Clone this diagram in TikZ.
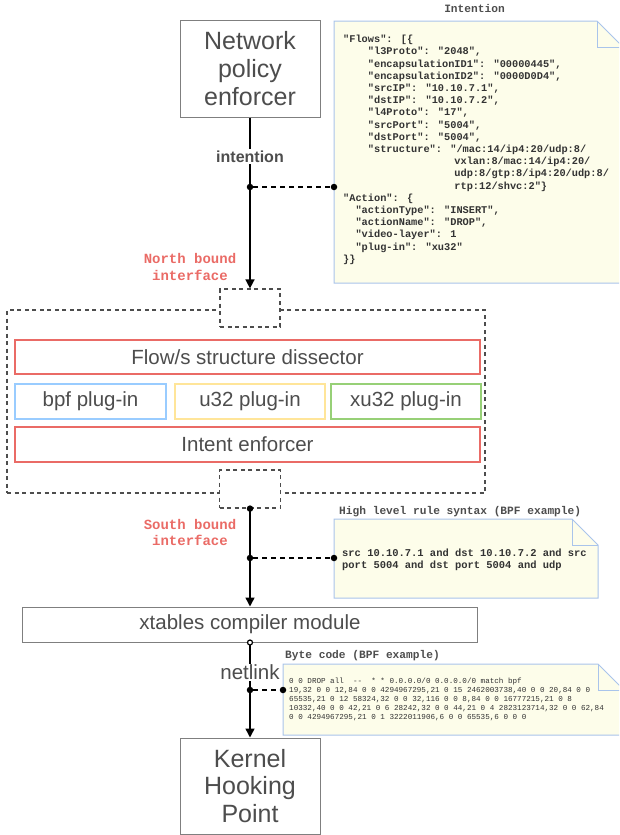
\documentclass[tikz,border=0pt]{standalone}
\usepackage{fontspec}
\setmainfont{Liberation Sans}
\newfontfamily\codefont{Liberation Mono}
\usetikzlibrary{arrows.meta}
\definecolor{boxgray}{HTML}{7F7F7F}
\definecolor{txtgray}{HTML}{4D4D4D}
\definecolor{redc}{HTML}{EA6B66}
\definecolor{bluec}{HTML}{99CCFF}
\definecolor{yellowc}{HTML}{FFE599}
\definecolor{greenc}{HTML}{97D077}
\definecolor{notefill}{HTML}{FDFDEA}
\definecolor{noteline}{HTML}{A9C4EB}
\definecolor{dashc}{HTML}{4D4D4D}
\definecolor{codec}{HTML}{333333}
\tikzset{
  graybox/.style={draw=boxgray, line width=1pt, fill=white, text=txtgray, inner sep=0pt, align=center},
  layerbox/.style={draw=#1, line width=1.6pt, fill=white, text=txtgray, inner sep=0pt, font=\fontsize{20.5}{23}\selectfont},
  plugbox/.style={draw=#1, line width=2.2pt, fill=white, text=txtgray, inner sep=0pt, font=\fontsize{20.5}{23}\selectfont},
  dashbox/.style={draw=dashc, line width=1.2pt, dash pattern=on 4pt off 3.5pt},
  flowline/.style={draw=black, line width=1.5pt, -{Triangle[length=9pt,width=9pt]}},
  dotnode/.style={circle, fill=black, inner sep=0pt, minimum size=6.5pt},
  opendot/.style={circle, draw=black, fill=white, line width=1.2pt, inner sep=0pt, minimum size=5pt},
  dlink/.style={draw=black, line width=1.5pt, dash pattern=on 5pt off 4pt},
  notebody/.style={draw=noteline, fill=notefill, line width=1pt},
  redlabel/.style={text=redc, font=\codefont\bfseries\fontsize{14}{16.5}\selectfont, align=center, inner sep=0pt},
  codetxt/.style={text=codec, anchor=north west, inner sep=0pt, align=left},
  titletxt/.style={text=txtgray, font=\codefont\bfseries\fontsize{11.2}{13}\selectfont, inner sep=0pt},
}
\begin{document}
\begin{tikzpicture}[x=1pt,y=-1pt]
\clip (0,0) rectangle (619,835);

% ---------- boxes ----------
\node[graybox, minimum width=140pt, minimum height=97pt, font=\fontsize{25}{28}\selectfont] (npe) at (250,68.5) {Network\\policy\\enforcer};

\node[dashbox, minimum width=478pt, minimum height=183pt] (core) at (246,401.5) {};
\node[dashbox, fill=white, minimum width=60pt, minimum height=38pt] (nb) at (250,308) {};
\node[dashbox, fill=white, minimum width=61pt, minimum height=38pt] (sb) at (250,489) {};

\node[layerbox=redc, minimum width=465pt, minimum height=34pt] (dis) at (247.5,357) {Flow/s structure dissector};
\node[plugbox=bluec, minimum width=151pt, minimum height=35pt] (bpf) at (90.5,401.5) {bpf plug-in};
\node[plugbox=yellowc, minimum width=150pt, minimum height=35pt] (u32) at (250,401.5) {u32 plug-in};
\node[plugbox=greenc, minimum width=150pt, minimum height=35pt] (xu32) at (406,401.5) {xu32 plug-in};
\node[layerbox=redc, minimum width=465pt, minimum height=35pt] (ie) at (247.5,444.5) {Intent enforcer};

\node[graybox, minimum width=455pt, minimum height=35pt, font=\fontsize{20.5}{23}\selectfont] (xt) at (250,624.5) {xtables compiler module};
\node[graybox, minimum width=140pt, minimum height=96pt, font=\fontsize{25}{27.5}\selectfont] (kh) at (250,786) {Kernel\\Hooking\\Point};

% ---------- notes ----------
\node[titletxt] (intitle) at (474.5,8) {Intention};
\draw[notebody] (334,21) -- (597,21) -- (623,47) -- (623,283) -- (334,283) -- cycle;
\draw[noteline, line width=1pt] (597,21) -- (597,47) -- (623,47);
\node[codetxt, font=\codefont\bfseries\fontsize{10.3}{12.2}\selectfont] (inttxt) at (343,33.4) {%
\rule{0pt}{9pt}"Flows": [\{\\
\hspace*{2.4em}"l3Proto": "2048",\\
\hspace*{2.4em}"encapsulationID1": "00000445",\\
\hspace*{2.4em}"encapsulationID2": "0000D0D4",\\
\hspace*{2.4em}"srcIP": "10.10.7.1",\\
\hspace*{2.4em}"dstIP": "10.10.7.2",\\
\hspace*{2.4em}"l4Proto": "17",\\
\hspace*{2.4em}"srcPort": "5004",\\
\hspace*{2.4em}"dstPort": "5004",\\
\hspace*{2.4em}"structure": "/mac:14/ip4:20/udp:8/\\
\hspace*{10.8em}vxlan:8/mac:14/ip4:20/\\
\hspace*{10.8em}udp:8/gtp:8/ip4:20/udp:8/\\
\hspace*{10.8em}rtp:12/shvc:2"\}\\
"Action": \{\\
\hspace*{1.2em}"actionType": "INSERT",\\
\hspace*{1.2em}"actionName": "DROP",\\
\hspace*{1.2em}"video-layer": 1\\
\hspace*{1.2em}"plug-in": "xu32"\\
\}\}};

\node[titletxt, anchor=west] (hltitle) at (339,512) {High level rule syntax (BPF example)};
\draw[notebody] (334,519) -- (572,519) -- (598,545) -- (598,598) -- (334,598) -- cycle;
\draw[noteline, line width=1pt] (572,519) -- (572,545) -- (598,545);
\node[codetxt, font=\codefont\bfseries\fontsize{10.45}{12}\selectfont] (hltxt) at (342,547.5) {%
\rule{0pt}{9pt}src 10.10.7.1 and dst 10.10.7.2 and src\\
port 5004 and dst port 5004 and udp};

\node[titletxt, anchor=west] (bctitle) at (285,656) {Byte code (BPF example)};
\draw[notebody] (283,664) -- (598,664) -- (624,690) -- (624,735) -- (283,735) -- cycle;
\draw[noteline, line width=1pt] (598,664) -- (598,690) -- (624,690);
\node[codetxt, font=\codefont\fontsize{7.6}{9}\selectfont] (bctxt) at (289,676.5) {%
\rule{0pt}{7pt}0 0 DROP all~~-{}-~~* * 0.0.0.0/0 0.0.0.0/0 match bpf\\
19,32 0 0 12,84 0 0 4294967295,21 0 15 2462003738,40 0 0 20,84 0 0\\
65535,21 0 12 58324,32 0 0 32,116 0 0 8,84 0 0 16777215,21 0 8\\
10332,40 0 0 42,21 0 6 28242,32 0 0 44,21 0 4 2823123714,32 0 0 62,84\\
0 0 4294967295,21 0 1 3222011906,6 0 0 65535,6 0 0 0};

% ---------- labels ----------
\node[redlabel] (nbl) at (190,267) {North bound\\interface};
\node[redlabel] (sbl) at (190,532.5) {South bound\\interface};

% ---------- connectors ----------
\draw[flowline] (npe.south) -- (nb.north)
  node[pos=0.227, fill=white, text=txtgray, inner sep=1.5pt, font=\bfseries\fontsize{16}{18}\selectfont] (intl) {intention};
\node[dotnode] (j1) at (250,187) {};
\node[dotnode] (e1) at (334,187) {};
\draw[dlink] (j1) -- (e1);

\draw[flowline] (sb.south) -- (xt.north);
\node[dotnode] (s0) at (sb.south) {};
\node[dotnode] (j2) at (250,558) {};
\node[dotnode] (e2) at (334,558) {};
\draw[dlink] (j2) -- (e2);

\draw[flowline] (xt.south) -- (kh.north)
  node[pos=0.3125, fill=white, text=txtgray, inner sep=1pt, font=\fontsize{20.5}{23}\selectfont] (nl) {netlink};
\node[opendot] (x0) at (xt.south) {};
\node[dotnode] (j3) at (250,690) {};
\node[dotnode] (e3) at (283,690) {};
\draw[dlink] (j3) -- (e3);
\end{tikzpicture}
\end{document}
